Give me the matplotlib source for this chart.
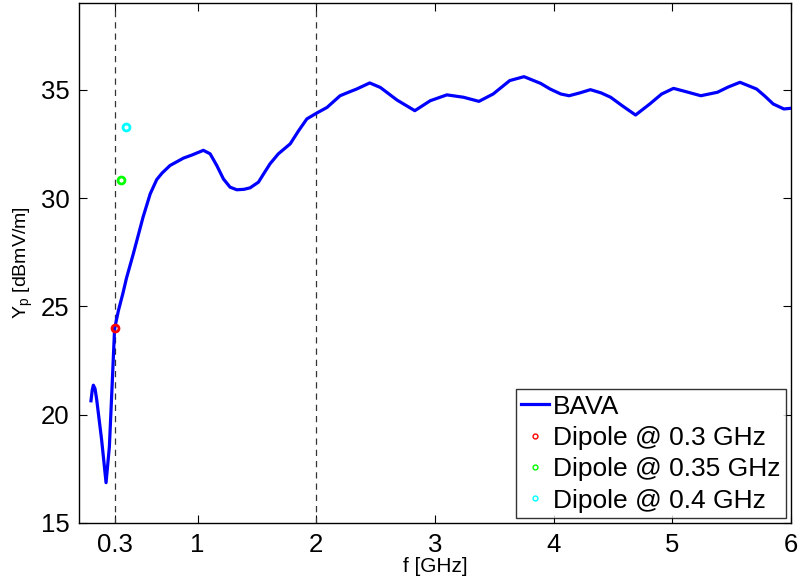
import matplotlib.pyplot as plt

plt.rcParams["font.family"] = ["Liberation Sans", "DejaVu Sans"]
plt.rcParams["mathtext.default"] = "regular"

# BAVA measured field strength vs. frequency
freq_ghz = [0.101, 0.112, 0.121, 0.135, 0.149, 0.191, 0.228, 0.256, 0.281, 0.30,
            0.332, 0.37, 0.40, 0.458, 0.54, 0.60, 0.655, 0.70, 0.767, 0.88,
            0.95, 1.048, 1.105, 1.161, 1.217, 1.273, 1.33, 1.39, 1.442, 1.512,
            1.56, 1.61, 1.68, 1.78, 1.85, 1.92, 2.0, 2.09, 2.2, 2.28, 2.34,
            2.45, 2.54, 2.68, 2.83, 2.96, 3.10, 3.24, 3.37, 3.49, 3.63, 3.75,
            3.89, 3.97, 4.06, 4.13, 4.22, 4.31, 4.40, 4.48, 4.58, 4.69, 4.81,
            4.91, 5.01, 5.12, 5.24, 5.38, 5.47, 5.57, 5.71, 5.78, 5.85, 5.94,
            6.0]
yp_dbmv = [20.64, 21.15, 21.36, 21.2, 20.7, 18.82, 16.86, 18.52, 21.59, 23.97,
           24.8, 25.6, 26.3, 27.43, 29.12, 30.19, 30.85, 31.15, 31.5, 31.84,
           31.98, 32.2, 32.04, 31.5, 30.88, 30.5, 30.38, 30.4, 30.47, 30.73,
           31.15, 31.58, 32.04, 32.5, 33.1, 33.65, 33.91, 34.18, 34.72, 34.9,
           35.03, 35.31, 35.1, 34.52, 34.03, 34.49, 34.76, 34.65, 34.46, 34.8,
           35.42, 35.6, 35.29, 35.03, 34.8, 34.72, 34.85, 35.0, 34.85, 34.65,
           34.25, 33.83, 34.34, 34.8, 35.06, 34.9, 34.72, 34.88, 35.12, 35.34,
           35.03, 34.7, 34.34, 34.11, 34.14]

# Reference dipole measurements
dipole_freqs = [0.3, 0.35, 0.4]
dipole_yp = [24.0, 30.85, 33.26]
dipole_colors = ["#ff0000", "#00ff00", "#00ffff"]
dipole_labels = ["Dipole @ 0.3 GHz", "Dipole @ 0.35 GHz", "Dipole @ 0.4 GHz"]

marker_freqs = [0.3, 2.0]
xticks = [0.3, 1, 2, 3, 4, 5, 6]
xtick_labels = ["0.3", "1", "2", "3", "4", "5", "6"]
yticks = [15, 20, 25, 30, 35]

fig = plt.figure(figsize=(7.99, 5.81), dpi=100)
ax = fig.add_axes([79 / 799, 1 - 523 / 581, 712 / 799, 520 / 581])

ax.plot(freq_ghz, yp_dbmv, color="#0000ff", linewidth=2.3, label="BAVA",
        solid_joinstyle="round", zorder=3)
for f, y, c, lab in zip(dipole_freqs, dipole_yp, dipole_colors, dipole_labels):
    ax.plot([f], [y], linestyle="none", marker="o", markersize=5,
            markerfacecolor="none", markeredgecolor=c, markeredgewidth=2,
            label=lab, zorder=4)
for f in marker_freqs:
    ax.axvline(f, color="#333333", linestyle=(0, (5, 4)), linewidth=0.9, zorder=2)

ax.set_xlim(0, 6)
ax.set_ylim(15, 39)
ax.set_xticks(xticks)
ax.set_xticklabels(xtick_labels)
ax.set_yticks(yticks)
ax.tick_params(direction="in", top=True, right=True, labelsize=18.5, length=6,
               width=0.8, pad=7)
for s in ax.spines.values():
    s.set_linewidth(1.0)

ax.set_xlabel("f [GHz]", fontsize=15, labelpad=0)
ax.set_ylabel("Y$_p$ [dBmV/m]", fontsize=14, labelpad=4)

leg = ax.legend(loc="lower right", fontsize=19, frameon=True, fancybox=False,
                borderaxespad=0.19, handlelength=1.07, handletextpad=0.15,
                borderpad=0.2, labelspacing=0.28)
leg.get_frame().set_edgecolor("black")
leg.get_frame().set_linewidth(1.0)
for h in leg.legend_handles[1:]:
    h.set_markersize(3.5)
    h.set_markeredgewidth(1.0)

fig.savefig("out.png", dpi=100)
